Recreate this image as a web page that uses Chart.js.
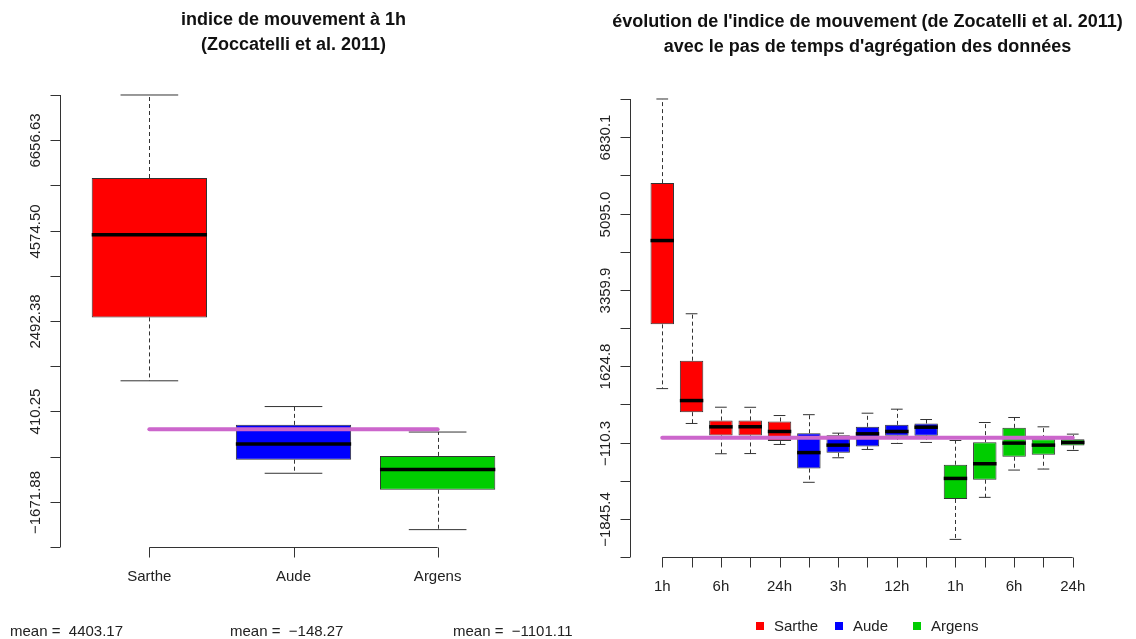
<!DOCTYPE html>
<html>
<head>
<meta charset="utf-8">
<title>indice de mouvement</title>
<script src="https://cdn.jsdelivr.net/npm/chart.js@4.4.1/dist/chart.umd.min.js"></script>
<style>
    body { margin: 0; background: #ffffff; }
    #wrap { position: relative; width: 1136px; height: 639px; overflow: hidden; }
    canvas { position: absolute; top: 0; }
    #leftChart { left: 0; }
    #rightChart { left: 590px; }
</style>
</head>
<body>
<div id="wrap">
    <canvas id="leftChart" width="590" height="639"></canvas>
    <canvas id="rightChart" width="546" height="639"></canvas>
</div>
<script>
// ---- data ----

// shared y range and tick positions
const yRange = [-2712.94, 7697.69];

// left plot: movement index at 1h
const leftCategories = ['Sarthe', 'Aude', 'Argens'];
const leftMin    = [1115, -1015, -2313];
const leftQ1     = [2575, -703, -1394];
const leftMedian = [4480, -340, -927];
const leftQ3     = [5786, 100, -615];
const leftMax    = [7698, 522, -65];
const leftMeans  = [4403.17, -148.27, -1101.11];
const leftColors = ['#ff0000', '#0000ff', '#00cd00'];
const leftTicks      = [7697.69, 6656.63, 5615.57, 4574.50, 3533.44, 2492.38, 1451.31, 410.25, -630.81, -1671.88, -2712.94];
const leftTickLabels = ['', '6656.63', '', '4574.50', '', '2492.38', '', '410.25', '', '-1671.88', ''];

// right plot: evolution with aggregation time step
const rightCategories = ['1h', '3h', '6h', '12h', '24h', '1h', '3h', '6h', '12h', '24h', '1h', '3h', '6h', '12h', '24h'];
const rightMin    = [1115, 322, -366, -362, -155, -1015, -457, -268, -132, -109, -2313, -1357, -737, -714, -291];
const rightQ1     = [2575, 579, 49, 50, -79, -703, -344, -200, 42, 42, -1394, -956, -434, -389, -177];
const rightMedian = [4480, 843, 246, 248, 140, -340, -170, 87, 140, 238, -927, -593, -124, -170, -109];
const rightQ3     = [5786, 1750, 390, 392, 367, 100, 57, 246, 291, 322, -615, -102, 223, -34, -34];
const rightMax    = [7698, 2816, 692, 690, 503, 522, 102, 556, 647, 412, -65, 344, 458, 246, 80];
const rightColors = ['#ff0000', '#ff0000', '#ff0000', '#ff0000', '#ff0000',
                     '#0000ff', '#0000ff', '#0000ff', '#0000ff', '#0000ff',
                     '#00cd00', '#00cd00', '#00cd00', '#00cd00', '#00cd00'];
const rightTicks      = [7697.69, 6830.1, 5962.55, 5095.0, 4227.45, 3359.9, 2492.35, 1624.8, 757.25, -110.3, -977.85, -1845.4, -2712.94];
const rightTickLabels = ['', '6830.1', '', '5095.0', '', '3359.9', '', '1624.8', '', '-110.3', '', '-1845.4', ''];

// legend
const legendNames  = ['Sarthe', 'Aude', 'Argens'];
const legendColors = ['#ff0000', '#0000ff', '#00cd00'];

// reference line
const referenceValue = 0;

const FONT = '"Liberation Sans", Arial, sans-serif';

function fmtMinus(s) {
    return String(s).replace('-', '\u2212');
}

function drawLine(ctx, x1, y1, x2, y2) {
    ctx.beginPath();
    ctx.moveTo(x1, y1);
    ctx.lineTo(x2, y2);
    ctx.stroke();
}

// whiskers, caps and median bars, drawn right after the boxes
const boxPartsPlugin = {
    id: 'boxParts',
    afterDatasetDraw(chart, args, opts) {
        if (args.index !== 0) return;
        const ctx = chart.ctx;
        const y = chart.scales.y;
        ctx.save();
        args.meta.data.forEach(function(bar, i) {
            const x = Math.round(bar.x) + 0.5;
            const half = bar.width / 2;
            const pMax = y.getPixelForValue(opts.max[i]);
            const pMin = y.getPixelForValue(opts.min[i]);
            const pQ1 = y.getPixelForValue(opts.q1[i]);
            const pQ3 = y.getPixelForValue(opts.q3[i]);
            const pMed = y.getPixelForValue(opts.median[i]);

            ctx.strokeStyle = '#333333';
            ctx.lineWidth = 1;
            ctx.setLineDash([4, 3]);
            drawLine(ctx, x, pQ3, x, pMax);
            drawLine(ctx, x, pQ1, x, pMin);
            ctx.setLineDash([]);
            drawLine(ctx, bar.x - half / 2, pMax, bar.x + half / 2, pMax);
            drawLine(ctx, bar.x - half / 2, pMin, bar.x + half / 2, pMin);

            ctx.strokeStyle = '#000000';
            ctx.lineWidth = 3.5;
            drawLine(ctx, bar.x - half, pMed, bar.x + half, pMed);
        });
        ctx.restore();
    }
};

// R-style axes, titles and extra texts
const rAxesPlugin = {
    id: 'rAxes',
    afterDraw(chart, args, opts) {
        const ctx = chart.ctx;
        const xs = chart.scales.x;
        const ys = chart.scales.y;
        const area = chart.chartArea;
        ctx.save();
        ctx.strokeStyle = '#333333';
        ctx.fillStyle = '#222222';
        ctx.lineWidth = 1;

        // y axis
        const ax = Math.round(area.left) + 0.5;
        drawLine(ctx, ax, ys.getPixelForValue(opts.yTicks[0]), ax, ys.getPixelForValue(opts.yTicks[opts.yTicks.length - 1]));
        ctx.font = '15px ' + FONT;
        ctx.textAlign = 'center';
        ctx.textBaseline = 'middle';
        opts.yTicks.forEach(function(v, i) {
            const py = Math.round(ys.getPixelForValue(v)) + 0.5;
            drawLine(ctx, ax - 10, py, ax, py);
            if (opts.yLabels[i]) {
                ctx.save();
                ctx.translate(ax - 25, py);
                ctx.rotate(-Math.PI / 2);
                ctx.fillText(fmtMinus(opts.yLabels[i]), 0, 0);
                ctx.restore();
            }
        });

        // x axis
        const by = Math.round(area.bottom) + 0.5;
        const xp = opts.xPos.map(function(v) { return xs.getPixelForValue(v); });
        drawLine(ctx, xp[0], by, xp[xp.length - 1], by);
        xp.forEach(function(px, i) {
            drawLine(ctx, Math.round(px) + 0.5, by, Math.round(px) + 0.5, by + 10);
            if (i % opts.xEvery === 0) {
                ctx.fillText(opts.xLabels[i], px, by + 29);
            }
        });

        // title
        ctx.fillStyle = '#111111';
        ctx.font = 'bold 18px ' + FONT;
        const cx = (area.left + area.right) / 2;
        opts.title.forEach(function(line, i) {
            ctx.fillText(line, cx, opts.titleY + i * 25);
        });

        if (opts.extra) opts.extra(chart, ctx);
        ctx.restore();
    }
};

function makeBoxChart(canvasId, cfg) {
    const ctx = document.getElementById(canvasId).getContext('2d');
    const xPos = cfg.categories.map(function(c, i) { return i + 1; });
    const n = xPos.length;
    const pad = 0.5 + 0.04 * n;   // R: 0.5 plus 4% extension

    return new Chart(ctx, {
        type: 'bar',
        data: {
            datasets: [{
                type: 'bar',
                order: 1,
                data: xPos.map(function(x, i) { return { x: x, y: [cfg.q1[i], cfg.q3[i]] }; }),
                backgroundColor: cfg.colors,
                borderColor: '#333333',
                borderWidth: 1,
                borderSkipped: false,
                categoryPercentage: 0.8,
                barPercentage: 1.0
            }, {
                type: 'line',
                order: 0,
                data: [{ x: xPos[0], y: referenceValue }, { x: xPos[n - 1], y: referenceValue }],
                borderColor: '#cc66cc',
                borderWidth: 4,
                pointRadius: 0,
                borderCapStyle: 'round'
            }]
        },
        options: {
            responsive: false,
            animation: false,
            devicePixelRatio: 1,
            layout: { padding: cfg.padding },
            plugins: {
                legend: { display: false },
                tooltip: { enabled: false },
                title: { display: false },
                boxParts: { min: cfg.min, q1: cfg.q1, median: cfg.median, q3: cfg.q3, max: cfg.max },
                rAxes: {
                    yTicks: cfg.yTicks,
                    yLabels: cfg.yLabels,
                    xPos: xPos,
                    xLabels: cfg.categories,
                    xEvery: cfg.xEvery,
                    title: cfg.title,
                    titleY: cfg.titleY,
                    extra: cfg.extra
                }
            },
            scales: {
                x: {
                    type: 'linear',
                    display: false,
                    offset: false,
                    min: 1 - pad,
                    max: n + pad,
                    afterBuildTicks: function(scale) {
                        scale.ticks = xPos.map(function(v) { return { value: v }; });
                    }
                },
                y: {
                    type: 'linear',
                    display: false,
                    min: yRange[0],
                    max: yRange[1]
                }
            }
        },
        plugins: [boxPartsPlugin, rAxesPlugin]
    });
}

// left chart
makeBoxChart('leftChart', {
    categories: leftCategories,
    min: leftMin, q1: leftQ1, median: leftMedian, q3: leftQ3, max: leftMax,
    colors: leftColors,
    yTicks: leftTicks,
    yLabels: leftTickLabels,
    xEvery: 1,
    title: ['indice de mouvement \u00e0 1h', '(Zoccatelli et al. 2011)'],
    titleY: 20,
    padding: { left: 60, right: 63, top: 95, bottom: 92 },
    extra: function(chart, ctx) {
        // means under the plot
        ctx.font = '15px ' + FONT;
        ctx.fillStyle = '#222222';
        ctx.textAlign = 'left';
        const xs = [10, 230, 453];
        leftMeans.forEach(function(m, i) {
            ctx.fillText('mean =  ' + fmtMinus(m.toFixed(2)), xs[i], 632);
        });
    }
});

// right chart
makeBoxChart('rightChart', {
    categories: rightCategories,
    min: rightMin, q1: rightQ1, median: rightMedian, q3: rightQ3, max: rightMax,
    colors: rightColors,
    yTicks: rightTicks,
    yLabels: rightTickLabels,
    xEvery: 2,
    title: ["\u00e9volution de l'indice de mouvement (de Zocatelli et al. 2011)", "avec le pas de temps d'agr\u00e9gation des donn\u00e9es"],
    titleY: 22,
    padding: { left: 40, right: 31, top: 99, bottom: 82 },
    extra: function(chart, ctx) {
        // legend at the bottom
        ctx.font = '15px ' + FONT;
        ctx.textAlign = 'left';
        const lx = [166, 245, 323];
        legendNames.forEach(function(name, i) {
            ctx.fillStyle = legendColors[i];
            ctx.fillRect(lx[i], 622, 8, 8);
            ctx.fillStyle = '#222222';
            ctx.fillText(name, lx[i] + 18, 627);
        });
    }
});
</script>
</body>
</html>
